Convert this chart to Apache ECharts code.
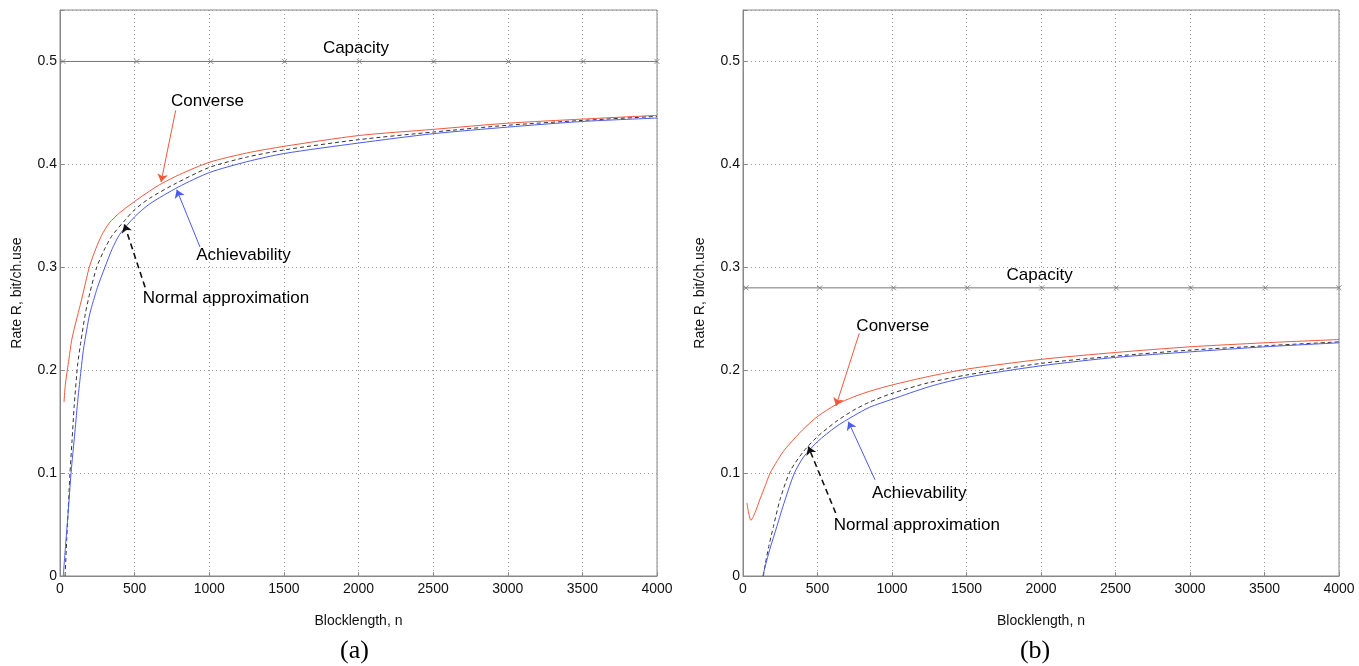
<!DOCTYPE html>
<html>
<head>
<meta charset="utf-8">
<script src="https://cdn.jsdelivr.net/npm/echarts@6/dist/echarts.min.js"></script>
<style>html,body{margin:0;padding:0;background:#fff}#c{width:1359px;height:666px}</style>
</head>
<body>
<div id="c"></div>
<script>
// ---------- data ----------
const xTicks = [0, 500, 1000, 1500, 2000, 2500, 3000, 3500, 4000];
const yTicks = [0, 0.1, 0.2, 0.3, 0.4, 0.5];
const capacityA = 0.5;
const capacityB = 0.28;
const capMarkN = [20, 515, 1010, 1505, 2005, 2505, 3005, 3505, 4000];

// (a) Converse
const nConvA = [27, 35, 49, 60, 78, 100, 130, 160, 196, 240, 279, 330, 400, 500, 600, 677, 800, 1000, 1250, 1500, 2000, 2500, 3000, 3500, 4000];
const rConvA = [0.169, 0.185, 0.200, 0.211, 0.229, 0.243, 0.260, 0.278, 0.300, 0.318, 0.331, 0.343, 0.353, 0.364, 0.374, 0.381, 0.390, 0.402, 0.411, 0.4175, 0.428, 0.434, 0.440, 0.444, 0.4476];
// (a) Normal approximation
const nNormA = [34, 45, 55, 67, 80, 95, 118, 140, 170, 200, 246, 300, 350, 431, 500, 600, 770, 1000, 1250, 1500, 2000, 2500, 3000, 3500, 4000];
const rNormA = [0.0, 0.035, 0.065, 0.10, 0.13, 0.165, 0.205, 0.228, 0.255, 0.275, 0.300, 0.318, 0.331, 0.345, 0.356, 0.367, 0.381, 0.397, 0.407, 0.414, 0.424, 0.4314, 0.438, 0.4427, 0.4466];
// (a) Achievability
const nAchA = [22, 40, 55, 74, 100, 120, 141, 156, 180, 200, 250, 301, 350, 400, 500, 600, 793, 1000, 1250, 1500, 2000, 2500, 3000, 3500, 4000];
const rAchA = [0.0, 0.035, 0.062, 0.10, 0.14, 0.172, 0.200, 0.219, 0.240, 0.255, 0.280, 0.300, 0.318, 0.332, 0.349, 0.3615, 0.378, 0.392, 0.4025, 0.4105, 0.4207, 0.4298, 0.4362, 0.4417, 0.445];

// (b) Converse
const nConvB = [26, 40, 53, 70, 90, 115, 150, 182, 230, 270, 317, 400, 500, 624, 741, 850, 1000, 1250, 1500, 2000, 2500, 3000, 3500, 4000];
const rConvB = [0.071, 0.060, 0.054, 0.058, 0.065, 0.075, 0.088, 0.100, 0.112, 0.121, 0.129, 0.142, 0.155, 0.1665, 0.174, 0.1795, 0.1856, 0.194, 0.201, 0.2105, 0.2172, 0.2227, 0.2266, 0.2298];
// (b) Normal approximation
const nNormB = [137, 150, 175, 204, 250, 317, 406, 500, 624, 741, 850, 1000, 1250, 1500, 2000, 2500, 3000, 3500, 4000];
const rNormB = [0.0, 0.012, 0.03, 0.048, 0.075, 0.102, 0.121, 0.1355, 0.150, 0.161, 0.169, 0.1775, 0.188, 0.1953, 0.2066, 0.2137, 0.2195, 0.2237, 0.2275];
// (b) Achievability
const nAchB = [133, 150, 180, 227, 280, 345, 406, 500, 624, 741, 850, 1000, 1250, 1500, 2000, 2500, 3000, 3500, 4000];
const rAchB = [0.0, 0.01, 0.026, 0.048, 0.073, 0.1, 0.1155, 0.1306, 0.145, 0.1555, 0.164, 0.1717, 0.184, 0.193, 0.2043, 0.2124, 0.2178, 0.2227, 0.2266];

// annotations in data coordinates
const labelsA = [
  {text: 'Capacity', n: 1983, r: 0.5126},
  {text: 'Converse', n: 988, r: 0.461},
  {text: 'Achievability', n: 1229, r: 0.3117},
  {text: 'Normal approximation', n: 1112, r: 0.270}
];
const labelsB = [
  {text: 'Capacity', n: 1991, r: 0.2921},
  {text: 'Converse', n: 1005, r: 0.2427},
  {text: 'Achievability', n: 1183, r: 0.080},
  {text: 'Normal approximation', n: 1167, r: 0.049}
];
const arrowsA = [
  {from: [775, 0.4524], to: [677, 0.3828], kind: 'conv'},
  {from: [938, 0.3197], to: [782, 0.3754], kind: 'ach'},
  {from: [570, 0.2806], to: [431, 0.3417], kind: 'norm'}
];
const arrowsB = [
  {from: [780, 0.2357], to: [624, 0.1652], kind: 'conv'},
  {from: [886, 0.0935], to: [707, 0.150], kind: 'ach'},
  {from: [622, 0.0612], to: [438, 0.1258], kind: 'norm'}
];

// ---------- chart ----------
const RED = '#f2583e', BLUE = '#4a5ce8', BLACK = '#333', GRAY = '#777';
const zip = (a, b) => a.map((v, i) => [v, b[i]]);
const colorOf = {conv: RED, ach: BLUE, norm: '#111'};

function xAxis(idx) {
  return {
    type: 'value', gridIndex: idx, min: 0, max: 4000, interval: 500,
    name: 'Blocklength, n', nameLocation: 'middle', nameGap: 38,
    nameTextStyle: {fontFamily: 'Liberation Sans', fontSize: 14, color: '#111'},
    axisLine: {show: true, lineStyle: {color: '#888'}},
    axisTick: {show: true, inside: true, length: 4, lineStyle: {color: '#888'}},
    axisLabel: {fontFamily: 'Liberation Sans', fontSize: 14, color: '#111', margin: 6,
      formatter: v => String(v)},
    splitLine: {show: true, lineStyle: {type: [1, 3], color: '#999'}}
  };
}
function yAxis(idx) {
  return {
    type: 'value', gridIndex: idx, min: 0, max: 0.55, interval: 0.1,
    name: 'Rate R, bit/ch.use', nameLocation: 'middle', nameGap: 36,
    nameTextStyle: {fontFamily: 'Liberation Sans', fontSize: 14, color: '#111'},
    axisLine: {show: true, lineStyle: {color: '#888'}},
    axisTick: {show: true, inside: true, length: 4, lineStyle: {color: '#888'}},
    axisLabel: {fontFamily: 'Liberation Sans', fontSize: 14, color: '#111', margin: 3,
      formatter: v => (v > 0.52 ? '' : String(Math.round(v * 10) / 10))},
    splitLine: {show: true, lineStyle: {type: [1, 3], color: '#999'}}
  };
}
function arrowLines(list) {
  return list.map(a => [
    {coord: a.from, lineStyle: {color: colorOf[a.kind], width: a.kind === 'norm' ? 1.6 : 1, type: a.kind === 'norm' ? [6, 4] : 'solid'}},
    {coord: a.to}
  ]);
}
function curve(idx, data, color, type) {
  return {type: 'line', xAxisIndex: idx, yAxisIndex: idx, data: data, showSymbol: false,
    smooth: 0.25, lineStyle: {color: color, width: 1, type: type}, z: 4};
}
function curves(idx, cap, conv, norm, ach, arrows) {
  return [
    {type: 'line', xAxisIndex: idx, yAxisIndex: idx, data: [[0, cap], [4000, cap]], showSymbol: false,
      lineStyle: {color: GRAY, width: 1}, silent: true, z: 2,
      markLine: {silent: true, symbol: ['none', 'arrow'], symbolSize: 8, label: {show: false},
        animation: false, data: arrowLines(arrows)}},
    {type: 'scatter', xAxisIndex: idx, yAxisIndex: idx, data: capMarkN.map(n => [n, cap]),
      symbol: 'path://M0,0L10,10M10,0L0,10', symbolSize: 5,
      itemStyle: {color: 'none', borderColor: GRAY, borderWidth: 1}, z: 3},
    curve(idx, conv, RED, 'solid'),
    curve(idx, norm, BLACK, [4, 3]),
    curve(idx, ach, BLUE, 'solid')
  ];
}

const chart = echarts.init(document.getElementById('c'), null, {renderer: 'canvas'});
chart.setOption({
  animation: false,
  backgroundColor: '#fff',
  grid: [
    {left: 60, top: 10, width: 597, height: 566, show: true, borderColor: '#888', borderWidth: 1, backgroundColor: 'transparent'},
    {left: 743, top: 10, width: 596, height: 566, show: true, borderColor: '#888', borderWidth: 1, backgroundColor: 'transparent'}
  ],
  xAxis: [xAxis(0), xAxis(1)],
  yAxis: [yAxis(0), yAxis(1)],
  series: [
    ...curves(0, capacityA, zip(nConvA, rConvA), zip(nNormA, rNormA), zip(nAchA, rAchA), arrowsA),
    ...curves(1, capacityB, zip(nConvB, rConvB), zip(nNormB, rNormB), zip(nAchB, rAchB), arrowsB)
  ]
});

function textEl(x, y, text, font) {
  return {type: 'text', x: x, y: y, silent: true, z: 100,
    style: {text: text, font: font, fill: '#000', align: 'center', verticalAlign: 'middle',
      textAlign: 'center', textVerticalAlign: 'middle'}};
}
const graphics = [];
[[labelsA, 0], [labelsB, 1]].forEach(([list, gi]) => {
  list.forEach(l => {
    const p = chart.convertToPixel({gridIndex: gi}, [l.n, l.r]);
    graphics.push(textEl(p[0], p[1], l.text, '17px "Liberation Sans", Arial, sans-serif'));
  });
});
const pa = chart.convertToPixel({gridIndex: 0}, [2000, 0]);
const pb = chart.convertToPixel({gridIndex: 1}, [1960, 0]);
graphics.push(textEl(pa[0] - 4, 651, '(a)', '26px "Liberation Serif", "Times New Roman", serif'));
graphics.push(textEl(pb[0], 651, '(b)', '26px "Liberation Serif", "Times New Roman", serif'));
chart.setOption({graphic: graphics});
</script>
</body>
</html>
